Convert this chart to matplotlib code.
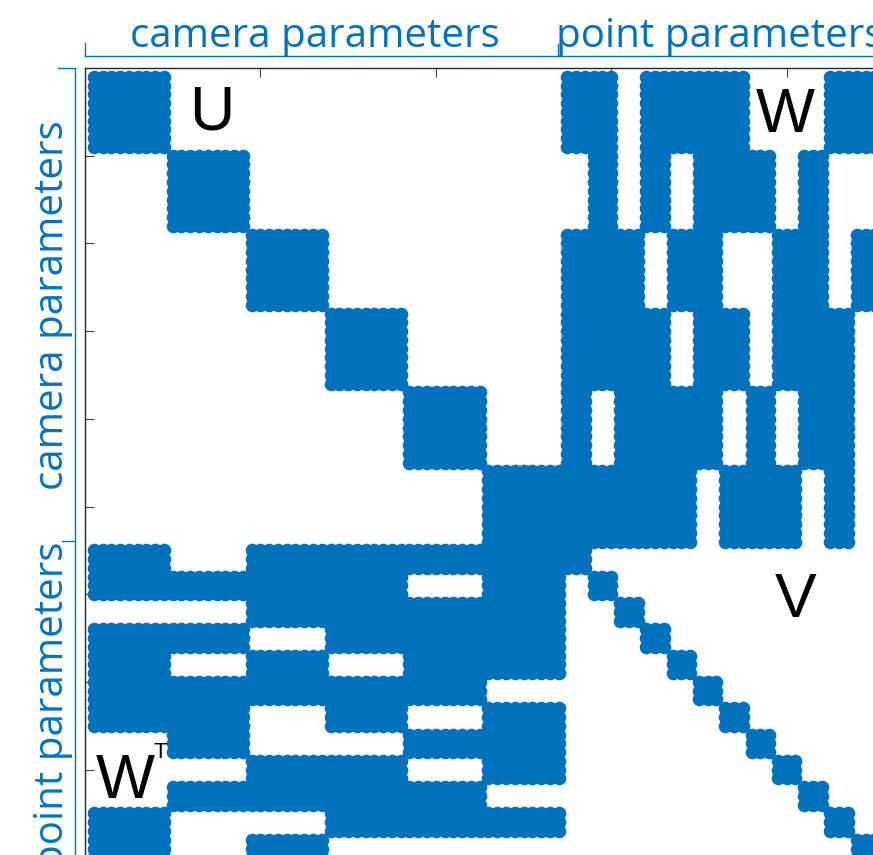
import numpy as np
import matplotlib
matplotlib.use('Agg')
import matplotlib.pyplot as plt
from matplotlib.lines import Line2D

# problem layout: 6 cameras with 9 params each, 12 points with 3 params each
n_cams = 6
cam_dim = 9
n_pts = 12
pt_dim = 3

# which points (1-based) each camera observes
cam1_pts = [1, 2, 4, 5, 6, 7, 11, 12]
cam2_pts = [2, 4, 6, 7, 8, 10]
cam3_pts = [1, 2, 3, 5, 6, 9, 10, 12]
cam4_pts = [1, 2, 3, 4, 6, 7, 9, 10, 11]
cam5_pts = [1, 3, 4, 5, 6, 8, 10, 11]
cam6_pts = [1, 2, 3, 4, 5, 7, 8, 9, 11]
observations = [cam1_pts, cam2_pts, cam3_pts, cam4_pts, cam5_pts, cam6_pts]

blue = '#0072BD'
W_PX, H_PX = 873, 855
px_per_idx = 8.77
idx_span = 100

# build the sparsity pattern of J^T J
n_cam_par = n_cams * cam_dim
N = n_cam_par + n_pts * pt_dim
H = np.zeros((N, N), dtype=bool)
for c in range(n_cams):
    cs = slice(c * cam_dim, (c + 1) * cam_dim)
    H[cs, cs] = True  # U
    for p in observations[c]:
        ps = slice(n_cam_par + (p - 1) * pt_dim, n_cam_par + p * pt_dim)
        H[cs, ps] = True  # W
        H[ps, cs] = True  # W^T
for p in range(n_pts):
    ps = slice(n_cam_par + p * pt_dim, n_cam_par + (p + 1) * pt_dim)
    H[ps, ps] = True  # V

rows, cols = np.nonzero(H)


def fx(x):
    return x / W_PX


def fy(y):
    return 1 - y / H_PX


fig = plt.figure(figsize=(W_PX / 100, H_PX / 100), dpi=100)
ax_w = idx_span * px_per_idx
ax = fig.add_axes([fx(85), fy(68 + ax_w), ax_w / W_PX, ax_w / H_PX])

ax.plot(cols + 1, rows + 1, 'o', ms=9.8, color=blue, mew=0, zorder=3)
ax.set_xlim(0, idx_span)
ax.set_ylim(idx_span, 0)
ax.xaxis.tick_top()
ax.set_xticks([20, 40, 60, 80])
ax.set_yticks([10, 20, 30, 40, 50, 60, 70, 80, 90])
ax.tick_params(direction='in', length=6.5, width=0.8, color='#404040',
               labeltop=False, labelleft=False, labelbottom=False)
for s in ax.spines.values():
    s.set_color('#262626')
    s.set_linewidth(1.0)

# block names
lab = dict(family='Liberation Sans', fontsize=45, color='black',
           ha='center', va='baseline')
fig.text(fx(212), fy(130), 'U', **lab)
fig.text(fx(785.5), fy(132), 'W', **lab)
fig.text(fx(796), fy(617), 'V', **lab)
fig.text(fx(125), fy(798), 'W', **lab)
fig.text(fx(153), fy(758), 'T', family='Liberation Sans', fontsize=16,
         color='black', ha='left', va='baseline')

# brackets along the top and left
hdr = dict(family='Open Sans', fontsize=29, color=blue)
fig.add_artist(Line2D([fx(85), fx(W_PX)], [fy(56.5), fy(56.5)], color=blue, lw=1))
fig.add_artist(Line2D([fx(85), fx(85)], [fy(56.5), fy(43)], color=blue, lw=1))
fig.add_artist(Line2D([fx(558), fx(558)], [fy(56.5), fy(44)], color=blue, lw=1))
fig.text(fx(314.5), fy(47), 'camera parameters', ha='center', va='baseline', **hdr)
fig.text(fx(556), fy(47), 'point parameters', ha='left', va='baseline', **hdr)

fig.add_artist(Line2D([fx(74.5), fx(74.5)], [fy(68), fy(H_PX)], color=blue, lw=1))
fig.add_artist(Line2D([fx(58), fx(74.5)], [fy(68), fy(68)], color=blue, lw=1))
fig.add_artist(Line2D([fx(62), fx(74.5)], [fy(541), fy(541)], color=blue, lw=1))
fig.text(fx(63), fy(305.5), 'camera parameters', rotation=90,
         rotation_mode='anchor', ha='center', va='baseline', **hdr)
fig.text(fx(63), fy(542), 'point parameters', rotation=90,
         rotation_mode='anchor', ha='right', va='baseline', **hdr)

fig.savefig('out.png', dpi=100)
